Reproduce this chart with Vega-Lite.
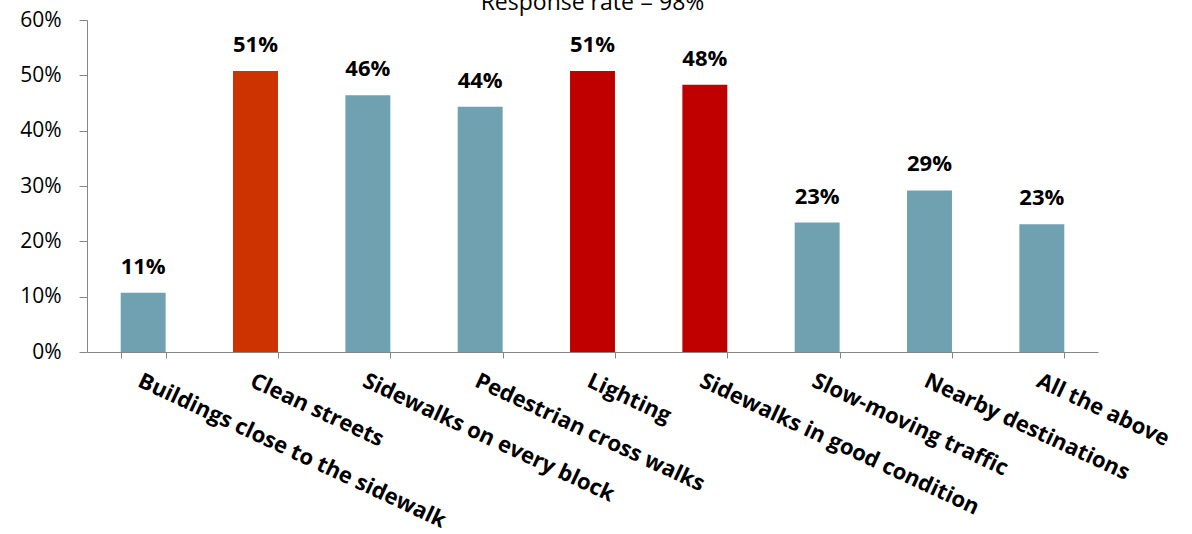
{
  "$schema": "https://vega.github.io/schema/vega-lite/v6.json",
  "width": 1011,
  "height": 332,
  "autosize": {"type": "none"},
  "padding": {"left": 87, "top": 20, "right": 94, "bottom": 182},
  "title": {
    "text": "Response rate = 98%",
    "anchor": "middle",
    "frame": "group",
    "font": "Open Sans",
    "fontSize": 23,
    "fontWeight": "normal",
    "color": "#000000",
    "baseline": "alphabetic",
    "offset": 0,
    "dy": 24
  },
  "config": {
    "view": {"stroke": null},
    "axis": {"domainColor": "#868686", "tickColor": "#868686", "grid": false}
  },
  "data": {
    "values": [
      {"option": "Buildings close to the sidewalk", "share": 0.107, "group": "base"},
      {"option": "Clean streets", "share": 0.508, "group": "accent1"},
      {"option": "Sidewalks on every block", "share": 0.464, "group": "base"},
      {"option": "Pedestrian cross walks", "share": 0.443, "group": "base"},
      {"option": "Lighting", "share": 0.508, "group": "accent2"},
      {"option": "Sidewalks in good condition", "share": 0.483, "group": "accent2"},
      {"option": "Slow-moving traffic", "share": 0.234, "group": "base"},
      {"option": "Nearby destinations", "share": 0.292, "group": "base"},
      {"option": "All the above", "share": 0.231, "group": "base"}
    ]
  },
  "encoding": {
    "x": {
      "field": "option",
      "type": "nominal",
      "sort": null,
      "scale": {"paddingInner": 0.6, "paddingOuter": 0.3},
      "axis": {
        "title": null,
        "tickBand": "extent",
        "tickSize": 6,
        "labelAngle": 25,
        "labelAlign": "left",
        "labelBaseline": "top",
        "labelPadding": 12,
        "labelFont": "Open Sans",
        "labelFontSize": 22,
        "labelFontWeight": "bold",
        "labelColor": "#000000",
        "labelLimit": 500
      }
    },
    "y": {
      "field": "share",
      "type": "quantitative",
      "scale": {"domain": [0, 0.6], "nice": false},
      "axis": {
        "title": null,
        "format": ".0%",
        "values": [0, 0.1, 0.2, 0.3, 0.4, 0.5, 0.6],
        "tickSize": 8,
        "labelPadding": 18,
        "labelFont": "Open Sans",
        "labelFontSize": 21,
        "labelColor": "#000000"
      }
    }
  },
  "layer": [
    {
      "mark": {"type": "bar"},
      "encoding": {
        "color": {
          "field": "group",
          "type": "nominal",
          "scale": {"domain": ["base", "accent1", "accent2"], "range": ["#6FA1B0", "#CC3300", "#C00000"]},
          "legend": null
        }
      }
    },
    {
      "mark": {"type": "text", "baseline": "alphabetic", "dy": -19, "font": "Open Sans", "fontSize": 22, "fontWeight": "bold", "color": "#000000"},
      "encoding": {
        "text": {"field": "share", "type": "quantitative", "format": ".0%"}
      }
    }
  ]
}
